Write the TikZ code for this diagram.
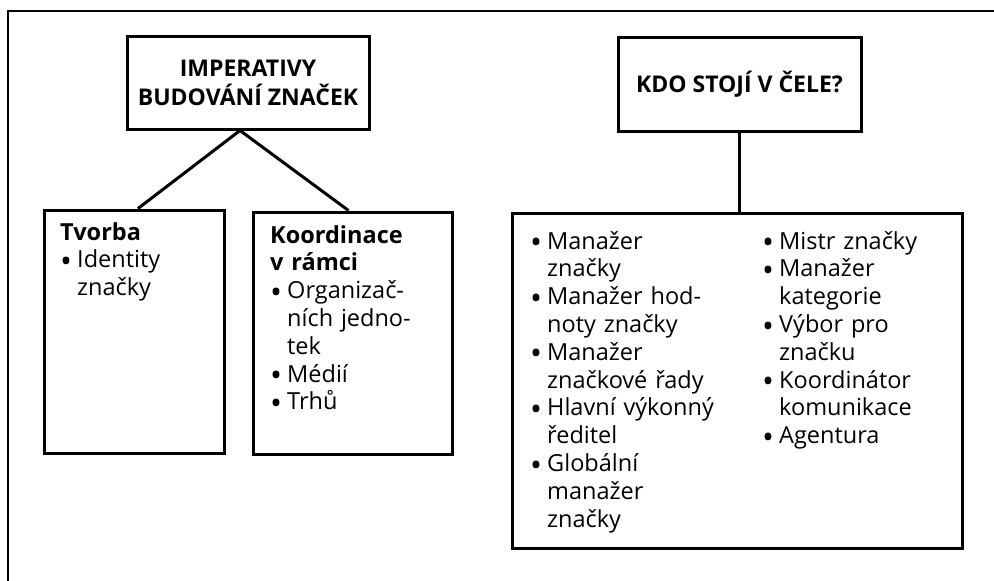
\documentclass[tikz,border=0pt]{standalone}
\usepackage{fontspec}
\setmainfont{Open Sans}
\tikzset{
  box/.style={draw, line width=3pt, inner sep=0pt},
  head/.style={font=\fontsize{23}{29}\selectfont\bfseries, align=center},
  list/.style={font=\fontsize{23.5}{27.8}\selectfont, align=left, text width=#1, inner sep=0pt, anchor=base west},
  link/.style={line width=3pt},
}
\newcommand{\bul}{\makebox[17pt][l]{\raisebox{-0.2em}{\scalebox{1.35}{\textbullet}}}}
\newcommand{\ind}{\hspace*{17pt}}
\begin{document}
\begin{tikzpicture}[x=1pt, y=-1pt]
\useasboundingbox (0,0) rectangle (994,581);
% frame of the page
\draw [line width=1.5pt] (8,581) -- (8,11) -- (994,11);
% left tree
\node [box, minimum width=242pt, minimum height=93pt] (imp) at (248,82.5) {};
\node [head] (imptext) at (imp.center) {IMPERATIVY\\BUDOVÁNÍ ZNAČEK};
\node [box, minimum width=180pt, minimum height=243pt] (tvorba) at (134,331.5) {};
\node [box, minimum width=199pt, minimum height=242pt] (koord) at (352.5,333) {};
\node [list=155pt] (tvorbatext) at (60,240) {\textbf{Tvorba}\\\bul Identity\\\ind značky};
\node [list=175pt] (koordtext) at (270,243) {\textbf{Koordinace}\\\textbf{v rámci}\\\bul Organizač-\\\ind ních jedno-\\\ind tek\\\bul Médií\\\bul Trhů};
\draw [link] ([xshift=4pt]tvorba.north) -- ([xshift=-8pt]imp.south) -- ([xshift=-4pt]koord.north);
% right tree
\node [box, minimum width=243pt, minimum height=94pt] (kdo) at (739.5,84) {};
\node [head] (kdotext) at (kdo.center) {KDO STOJÍ V ČELE?};
\node [box, minimum width=450pt, minimum height=335pt] (who) at (737,380.5) {};
\node [list=220pt] (wholeft) at (530,249) {\bul Manažer\\\ind značky\\\bul Manažer hod-\\\ind noty značky\\\bul Manažer\\\ind značkové řady\\\bul Hlavní výkonný\\\ind ředitel\\\bul Globální\\\ind manažer\\\ind značky};
\node [list=195pt] (whoright) at (762,249) {\bul Mistr značky\\\bul Manažer\\\ind kategorie\\\bul Výbor pro\\\ind značku\\\bul Koordinátor\\\ind komunikace\\\bul Agentura};
\draw [link] (kdo.south) -- (kdo.south |- who.north);
\end{tikzpicture}
\end{document}
